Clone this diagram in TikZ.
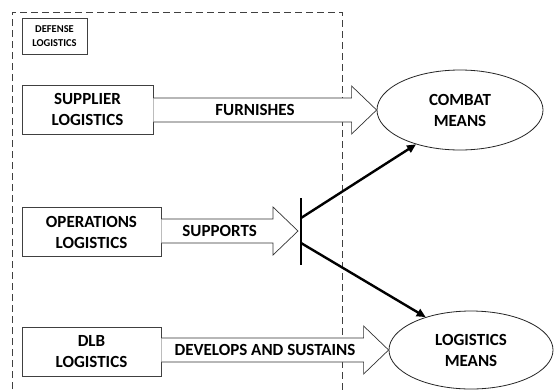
\documentclass[tikz,border=0pt]{standalone}
\usepackage{fontspec}
\setmainfont{Carlito}
\usetikzlibrary{shapes.geometric,arrows.meta,calc}
\tikzset{
  box/.style={draw=black!75, line width=0.8pt, fill=white, inner sep=0pt, align=center,
    font=\fontsize{17}{21}\selectfont\bfseries},
  smallbox/.style={draw=black!75, line width=0.8pt, fill=white, inner sep=0pt, align=center,
    font=\fontsize{10.5}{13.5}\selectfont\bfseries},
  oval/.style={ellipse, draw=black!85, line width=0.8pt, fill=white, inner sep=0pt, align=center,
    font=\fontsize{17}{21}\selectfont\bfseries},
  blk/.style={draw=black!80, line width=0.7pt, fill=white},
  lbl/.style={font=\fontsize{17}{21}\selectfont\bfseries, inner sep=0pt},
  dashframe/.style={draw=black!75, line width=0.8pt, dash pattern=on 7pt off 4pt},
  thick arrow/.style={line width=2.4pt, -{Triangle[length=9pt,width=8pt]}},
}
\newcommand{\blockarr}[3]{%
  \draw[blk] ($(#1 |- #2)+(0,-12)$) -- ($(#2)+(-25,-12)$) -- ($(#2)+(-25,-24)$) -- (#2)
    -- ($(#2)+(-25,24)$) -- ($(#2)+(-25,12)$) -- ($(#1 |- #2)+(0,12)$);
  \node[lbl] at ($($(#1 |- #2)!0.5!(#2)$)+(-10,0)$) {#3};
}
\begin{document}
\begin{tikzpicture}[x=1pt,y=-1pt]
  \useasboundingbox (0,0) rectangle (556,389);
  \clip (0,0) rectangle (556,389);
  \fill[white] (0,0) rectangle (556,389);
  % frame
  \draw[dashframe] (12,400) -- (12,12) -- (342,12) -- (342,400);
  \node[smallbox, minimum width=65pt, minimum height=36pt] (def) at (54.5,36) {DEFENSE\\LOGISTICS};
  % boxes
  \node[box, minimum width=131pt, minimum height=49pt] (sup) at (87.5,109.5) {SUPPLIER\\LOGISTICS};
  \node[box, minimum width=139pt, minimum height=49pt] (ops) at (91.5,232) {OPERATIONS\\LOGISTICS};
  \node[box, minimum width=139pt, minimum height=49pt] (dlb) at (91.5,352) {DLB\\LOGISTICS};
  % ellipses
  \node[oval, minimum width=166pt, minimum height=80pt] (cm) at (460,110) {COMBAT\\MEANS};
  \node[oval, minimum width=164pt, minimum height=78pt] (lm) at (471,350) {LOGISTICS\\MEANS};
  % bar
  \node[fill=black, inner sep=0pt, minimum width=2.6pt, minimum height=67pt] (bar) at (301,231.5) {};
  \coordinate (optip) at (298,231);
  % block arrows
  \blockarr{sup.east}{cm.west}{FURNISHES}
  \blockarr{ops.east}{optip}{SUPPORTS}
  \blockarr{dlb.east}{lm.west}{DEVELOPS AND SUSTAINS}
  % thick arrows
  \draw[thick arrow] ($(bar.center)+(0,-13.5)$) -- (cm.218);
  \draw[thick arrow] ($(bar.center)+(0,11.5)$) -- (lm.144);
\end{tikzpicture}
\end{document}
